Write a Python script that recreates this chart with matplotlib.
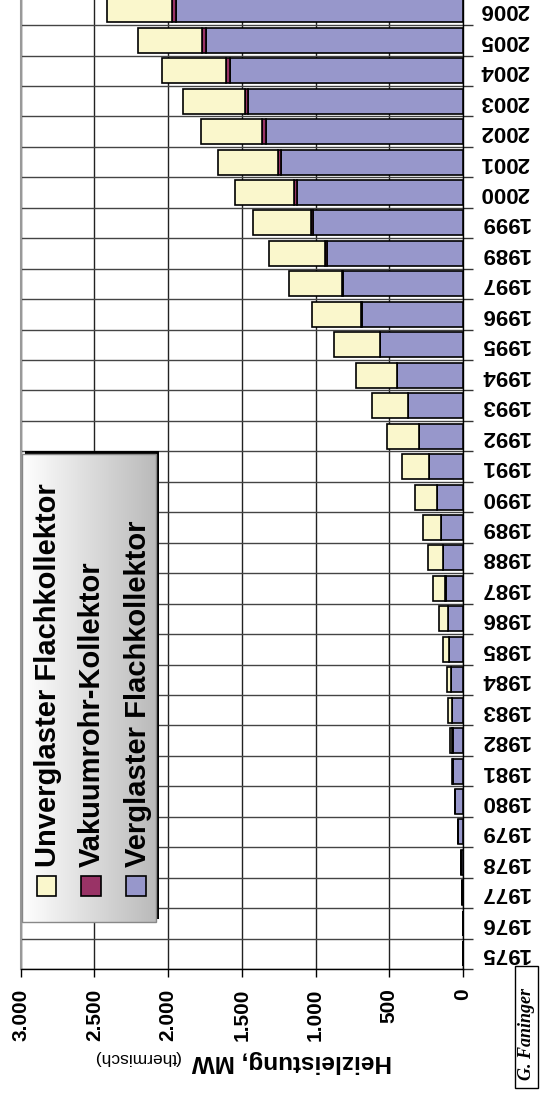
import numpy as np
import matplotlib
matplotlib.use('Agg')
import matplotlib.pyplot as plt
from matplotlib.patches import Rectangle

plt.rcParams['font.family'] = ['Liberation Sans', 'DejaVu Sans']
plt.rcParams['font.weight'] = 'bold'

# Heizleistung in MW (thermisch), 1975-2006
jahre = ['1975', '1976', '1977', '1978', '1979', '1980', '1981', '1982',
         '1983', '1984', '1985', '1986', '1987', '1988', '1989', '1990',
         '1991', '1992', '1993', '1994', '1995', '1996', '1997', '1989',
         '1999', '2000', '2001', '2002', '2003', '2004', '2005', '2006']
verglast = [1, 3, 5, 14, 34, 52, 68, 70, 77, 83, 93, 104, 118, 134, 149, 176,
            231, 298, 371, 446, 563, 687, 812, 925, 1015, 1124, 1234, 1338,
            1456, 1580, 1743, 1947]
vakuum = [0, 0, 0, 0, 0, 0, 0, 3, 1, 1, 1, 1, 1, 1, 1, 1,
          1, 1, 1, 2, 3, 5, 8, 10, 18, 20, 20, 25, 22, 27, 29, 25]
unverglast = [0, 0, 0, 2, 2, 2, 4, 15, 22, 27, 44, 56, 82, 100, 119, 151,
              182, 214, 243, 280, 307, 332, 358, 381, 394, 400, 410, 416,
              423, 435, 432, 443]
serien = ['Unverglaster Flachkollektor', 'Vakuumrohr-Kollektor',
          'Verglaster Flachkollektor']
farben = ['#FAF7CC', '#993366', '#9797CB']

W, H = 540, 1093
fig = plt.figure(figsize=(W / 100, H / 100), dpi=100)
ax = fig.add_axes([20.7 / W, 1 - 969 / H, (463 - 20.7) / W, 974.4 / H])

y = np.arange(len(jahre))
v = np.array(verglast)
r = np.array(vakuum)
u = np.array(unverglast)
kw = dict(height=0.82, edgecolor='black', linewidth=1.2, zorder=3)
ax.barh(y, v, color=farben[2], **kw)
ax.barh(y, r, left=v, color=farben[1], **kw)
ax.barh(y, u, left=v + r, color=farben[0], **kw)

ax.set_xlim(3000, 0)
ax.set_ylim(-0.5, len(jahre) - 0.5)
ax.set_xticks(np.arange(0, 3001, 500))
ax.set_xticklabels([f'{t:,}'.replace(',', '.') for t in range(0, 3001, 500)])
ax.tick_params(axis='x', length=6, width=1, pad=8, labelsize=15,
               labelrotation=90)

ax.yaxis.tick_right()
ax.set_yticks(y)
ax.set_yticklabels(jahre)
ax.set_yticks(np.arange(-0.5, len(jahre), 1), minor=True)
ax.tick_params(axis='y', which='major', length=0, pad=12, labelsize=16,
               labelrotation=180)
ax.tick_params(axis='y', which='minor', length=7, width=1, color='#333333')
for lbl in ax.get_yticklabels():
    lbl.set_va('center')

ax.grid(axis='x', which='major', color='#222222', lw=1.0, zorder=0)
ax.grid(axis='y', which='minor', color='#444444', lw=1.0, zorder=0)
ax.set_axisbelow(True)
ax.spines['left'].set_color('#999999')
ax.spines['left'].set_linewidth(1.5)
ax.spines['top'].set_visible(False)
for s in ('right', 'bottom'):
    ax.spines[s].set_color('black')
    ax.spines[s].set_linewidth(1.0)

# Overlay in Pixelkoordinaten fuer Legende, Achsentitel und Signatur
ov = fig.add_axes([0, 0, 1, 1], zorder=5)
ov.axis('off')

ov.add_patch(Rectangle((25, 451), 134, 468, fc='black', ec='none'))
grad = np.linspace(1.0, 0.73, 256)
img = np.dstack([grad, grad, grad])[None, :, :].reshape(1, 256, 3)
ov.imshow(img, extent=(22, 156, 922, 454), aspect='auto', zorder=1)
ov.add_patch(Rectangle((22, 454), 134, 468, fc='none', ec='#888888',
                       lw=1.0, zorder=2))

kx = [36.7, 81, 126]
tx = [56, 100, 145.5]
for name, c, xs, xt in zip(serien, farben, kx, tx):
    ov.add_patch(Rectangle((xs, 876), 19.5, 19.5, fc=c, ec='black', lw=1.2,
                           zorder=3))
    ov.text(xt, 867, name, rotation=90, rotation_mode='anchor', ha='left',
            va='baseline', fontsize=21, fontweight='bold', zorder=4)

ov.text(392, 1055, 'Heizleistung, MW', rotation=180, rotation_mode='anchor',
        ha='left', va='baseline', fontsize=17.5, fontweight='bold')
ov.text(180, 1053, '(thermisch)', rotation=180, rotation_mode='anchor',
        ha='left', va='baseline', fontsize=12.5, fontweight='normal')

ov.add_patch(Rectangle((515, 966), 23, 121.5, fc='white', ec='black', lw=1.0))
ov.text(531, 1080, 'G. Faninger', rotation=90, rotation_mode='anchor',
        ha='left', va='baseline', fontsize=13, fontweight='bold',
        style='italic', family=['Liberation Serif', 'DejaVu Serif'])

ov.set_xlim(0, W)
ov.set_ylim(H, 0)

fig.savefig('out.png', dpi=100)
